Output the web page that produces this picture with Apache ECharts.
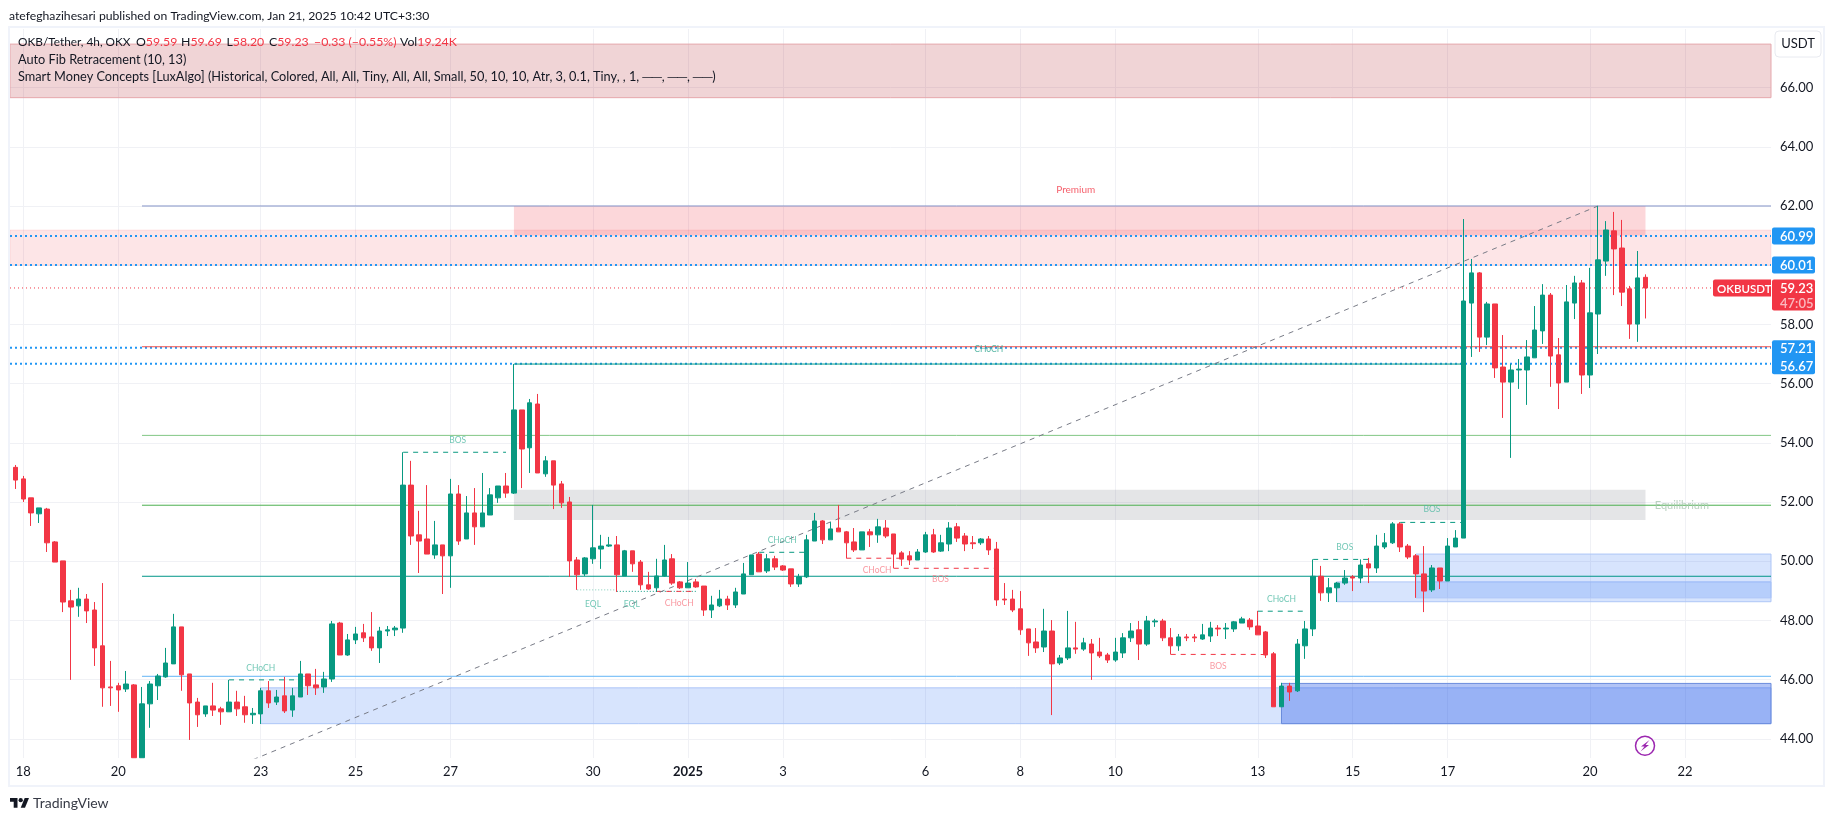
<!DOCTYPE html>
<html>
<head>
<meta charset="utf-8">
<title>OKB/Tether 4h</title>
<script src="https://cdn.jsdelivr.net/npm/echarts@6/dist/echarts.min.js"></script>
<style>
  html, body { margin: 0; padding: 0; background: #fff; overflow: hidden; }
  #main { width: 1835px; height: 821px; }
</style>
</head>
<body>
<div id="main"></div>
<script>
// bar numbers count 4h bars from Dec 18 (6 bars a day)
var firstBar = -1;
// bars 14 and 15 run off the bottom of the pane, so their hidden ends stop at the edge
var opens = [
  53.17,52.78,52.14,51.60,51.76,50.65,50.01,48.66,48.49,48.72,
  48.35,47.14,45.75,45.79,45.68,45.82,43.36,45.18,45.79,46.09,
  46.53,47.78,46.19,45.24,44.84,45.11,45.01,44.91,45.24,45.08,
  44.81,44.84,45.62,45.24,45.45,44.97,45.41,46.19,45.82,45.75,
  46.02,47.91,46.83,47.34,47.58,47.44,47.07,47.64,47.68,47.74,
  52.57,50.89,50.75,50.21,50.55,50.18,52.27,50.75,51.63,51.16,
  51.56,52.14,52.54,52.30,55.11,53.83,55.31,52.95,53.39,52.61,
  52.00,50.04,49.57,50.08,50.41,50.51,50.55,49.50,50.35,49.97,
  49.20,49.10,49.50,50.08,49.30,49.10,49.30,49.16,48.35,48.49,
  48.72,48.52,48.89,49.54,50.24,49.67,50.08,49.84,49.74,49.23,
  49.47,50.68,51.36,50.72,51.12,50.99,50.65,50.38,50.99,50.89,
  51.12,50.92,50.28,50.18,50.04,50.31,50.89,50.34,50.58,51.16,
  50.85,50.62,50.62,50.75,50.41,48.72,48.72,48.39,47.71,47.27,
  47.10,47.64,46.56,46.73,47.07,47.03,47.20,46.93,46.83,46.66,
  46.90,47.41,47.68,47.20,47.95,47.98,47.41,47.14,47.44,47.44,
  47.37,47.47,47.74,47.71,47.71,47.91,48.01,47.81,47.61,46.87,
  45.08,45.78,45.62,47.14,47.71,49.49,48.93,49.10,49.26,49.47,
  49.43,49.91,49.77,50.48,50.62,51.26,50.51,50.18,49.57,49.03,
  49.77,49.33,50.48,50.78,58.72,59.74,57.57,58.69,56.56,56.05,
  56.46,56.46,56.87,57.78,58.99,56.97,56.05,58.72,59.40,56.29,
  58.35,60.14,61.16,60.58,59.20,58.01,59.59
];
var closes = [
  52.74,52.10,51.63,51.80,50.62,49.97,48.62,48.45,48.72,48.32,
  47.07,45.72,45.72,45.65,45.85,43.36,45.18,45.85,46.12,46.56,
  47.78,46.16,45.21,44.81,45.11,44.97,44.91,45.24,45.01,44.81,
  44.86,45.62,45.21,45.41,44.94,45.45,46.19,45.79,45.72,46.02,
  47.88,46.83,47.34,47.54,47.41,47.07,47.64,47.68,47.74,52.57,
  50.85,50.68,50.24,50.55,50.18,52.27,50.68,51.63,51.16,51.63,
  52.24,52.54,52.30,55.11,53.79,55.35,52.98,53.39,52.57,51.97,
  50.01,49.54,50.11,50.45,50.51,50.55,49.54,50.35,49.91,49.20,
  49.06,49.50,50.04,49.26,49.10,49.26,49.13,48.35,48.52,48.72,
  48.52,48.96,49.57,50.21,49.64,50.08,49.80,49.70,49.23,49.47,
  50.72,51.36,50.72,51.09,50.99,50.62,50.38,50.99,50.89,51.16,
  50.85,50.24,50.07,50.04,50.31,50.89,50.31,50.62,51.12,50.78,
  50.58,50.59,50.75,50.38,48.69,48.69,48.35,47.68,47.24,47.07,
  47.64,46.53,46.73,47.07,47.03,47.24,46.90,46.80,46.66,46.93,
  47.41,47.64,47.20,47.98,47.98,47.41,47.14,47.44,47.41,47.41,
  47.51,47.74,47.71,47.74,47.95,48.05,47.78,47.51,46.83,45.08,
  45.78,45.58,47.20,47.71,49.49,48.93,49.10,49.26,49.43,49.43,
  49.87,49.77,50.51,50.62,51.26,50.48,50.14,49.57,48.99,49.77,
  49.33,50.51,50.78,58.79,59.74,57.57,58.69,56.53,56.05,56.46,
  56.49,56.90,57.81,58.99,56.93,56.02,58.76,59.40,56.29,58.39,
  60.18,61.19,60.55,59.09,58.01,59.57,59.23
];
var lows = [
  52.44,52.00,51.19,51.29,50.31,49.97,48.28,45.99,48.12,47.91,
  46.46,45.08,45.11,44.91,45.58,43.36,43.36,44.37,45.31,46.06,
  46.53,45.62,43.96,44.40,44.74,44.77,44.47,44.91,44.77,44.54,
  44.50,44.50,45.04,45.14,44.87,44.74,45.41,45.48,45.48,45.55,
  45.92,46.83,46.80,47.20,47.27,46.97,46.56,47.47,47.47,47.58,
  50.55,49.60,50.24,50.08,48.89,49.10,50.55,50.75,50.55,51.16,
  51.56,51.97,52.14,52.27,52.47,52.98,52.98,52.85,51.76,51.80,
  49.47,49.03,49.50,49.91,49.74,50.48,48.96,49.50,49.64,49.03,
  49.03,48.96,49.48,49.20,49.06,49.10,49.10,48.15,48.08,48.45,
  48.35,48.42,48.89,49.54,49.64,49.60,49.70,49.67,49.13,49.13,
  49.43,50.68,50.58,50.72,50.99,50.10,50.31,50.38,50.48,50.62,
  50.78,49.76,49.84,49.87,50.04,50.28,50.28,50.31,50.34,50.65,
  50.34,50.41,50.55,50.21,48.49,48.52,48.28,47.51,46.80,46.90,
  46.93,44.80,46.49,46.66,46.87,46.97,45.99,46.73,46.56,46.60,
  46.73,47.27,46.66,47.14,47.78,47.30,46.85,46.97,47.30,47.27,
  47.34,47.27,47.47,47.37,47.61,47.91,47.68,47.51,46.73,45.08,
  45.08,45.28,45.58,46.70,47.47,48.66,48.62,48.62,49.20,48.99,
  49.26,49.26,49.60,50.41,50.58,50.31,50.07,48.76,48.28,48.96,
  49.06,49.33,50.48,50.78,56.90,57.07,57.30,56.19,54.84,53.49,
  55.82,55.28,56.87,57.34,55.89,55.14,56.05,58.18,55.65,55.85,
  57.00,59.64,58.99,58.62,57.51,57.41,58.20
];
var highs = [
  53.25,52.88,52.14,51.80,51.80,50.68,50.01,49.03,49.10,48.89,
  48.62,49.26,46.63,45.89,46.29,45.85,45.75,45.95,46.19,47.07,
  48.22,47.78,46.19,45.38,45.11,45.89,45.08,45.99,45.62,45.45,
  45.04,45.72,45.95,45.65,46.09,45.72,46.63,46.19,46.36,46.26,
  47.98,47.95,47.54,47.78,47.88,48.28,47.78,47.81,47.81,53.68,
  53.39,51.70,52.57,51.36,50.55,52.78,52.57,52.20,52.47,52.98,
  52.47,52.54,52.98,56.66,55.11,55.48,55.65,53.55,53.39,52.71,
  52.17,50.14,50.14,51.90,50.89,50.82,50.85,50.38,50.35,50.04,
  49.64,50.08,50.55,50.24,49.33,49.97,49.40,49.16,48.83,49.03,
  48.83,49.10,49.94,50.21,50.31,50.24,50.18,49.87,49.74,49.57,
  50.89,51.63,51.39,51.32,51.90,51.02,51.12,50.99,51.09,51.43,
  51.39,50.92,50.34,50.34,50.41,50.99,51.09,50.89,51.32,51.29,
  50.95,50.85,50.78,50.85,50.65,49.26,49.03,48.99,47.71,47.74,
  48.39,48.01,46.83,48.32,47.95,47.41,47.37,47.41,46.90,47.41,
  47.57,47.91,47.98,48.15,48.05,48.05,47.74,47.54,47.54,47.54,
  47.88,47.95,47.84,47.91,47.98,48.12,48.08,48.32,47.64,46.93,
  45.89,45.89,47.37,47.98,50.06,49.84,49.43,49.30,49.70,49.53,
  50.06,50.11,50.89,50.95,51.32,51.32,50.58,50.24,50.51,49.87,
  49.77,50.78,51.05,61.56,60.21,59.77,58.76,58.69,57.64,56.66,
  56.83,57.47,58.62,59.36,59.06,57.54,59.33,59.64,59.50,59.91,
  62.00,61.49,61.80,61.53,59.30,60.48,59.69
];

var tickBars = [0, 12, 30, 42, 54, 72, 84, 96, 114, 126, 138, 156, 168, 180, 198, 210];
var tickLabels = ['18', '20', '23', '25', '27', '30', '2025', '3', '6', '8', '10', '13', '15', '17', '20', '22'];
var priceTicks = [44, 46, 48, 50, 52, 54, 56, 58, 60, 62, 64, 66];

var barMin = -1.68, barMax = 220.86;
var priceMin = 43.35, priceMax = 67.98;

var UP = '#089981', DOWN = '#f23645', BLUE = '#2196f3';
var TEXT = '#131722', FONT = 'Lato, "Noto Sans", sans-serif';

// zones: first bar, last bar, top price, bottom price, fill, border
var zones = [
  [barMin, barMax, 67.47, 65.66, 'rgba(178,40,51,0.2)', '#e5a8ad'],
  [barMin, barMax, 61.19, 60.00, 'rgba(242,54,69,0.13)', 'rgba(242,54,69,0.1)'],
  [62, 205, 62.00, 61.00, 'rgba(242,54,69,0.2)', null],
  [62, 205, 52.41, 51.39, 'rgba(120,123,134,0.2)', null],
  [30, barMax, 45.72, 44.51, 'rgba(41,110,245,0.19)', '#adc6f7'],
  [159, barMax, 45.87, 44.51, 'rgba(33,87,230,0.35)', '#6a8bdc'],
  [166, barMax, 49.30, 48.63, 'rgba(41,110,245,0.19)', '#adc6f7'],
  [176, barMax, 50.24, 48.76, 'rgba(41,110,245,0.19)', '#adc6f7']
];

// auto fib levels run from bar 15 to the right edge
var fibLevels = [
  [62.00, '#8494c8'],
  [57.245, '#ef5350'],
  [54.25, '#81c784'],
  [51.89, '#4caf50'],
  [49.49, '#009688'],
  [46.11, '#64b5f6']
];
var dottedPrices = [60.99, 60.01, 57.21, 56.67];

// structure lines: first bar, last bar, price, colour, style
var structureLines = [
  [26, 35, 45.99, UP, 'dashed'],
  [48, 61, 53.68, UP, 'dashed'],
  [62, 182, 56.66, UP, 'solid'],
  [70, 75, 49.03, '#7fccb9', 'dotted'],
  [75, 85, 48.98, UP, 'dotted'],
  [80, 85, 48.98, DOWN, 'dashed'],
  [93, 99, 50.30, UP, 'dashed'],
  [104, 111, 50.10, DOWN, 'dashed'],
  [110, 123, 49.76, DOWN, 'dashed'],
  [145, 157, 46.85, DOWN, 'dashed'],
  [156, 162, 48.31, UP, 'dashed'],
  [163, 170, 50.06, UP, 'dashed'],
  [174, 182, 51.31, UP, 'dashed']
];

// small labels: text, bar, price, colour, size
var smcLabels = [
  ['CHoCH', 30, 46.39, '#4db9a3', 8.5],
  ['BOS', 54.9, 54.09, '#4db9a3', 8.5],
  ['CHoCH', 122, 57.17, '#2ea58f', 8.5],
  ['EQL', 72, 48.56, '#4db9a3', 8.5],
  ['EQL', 76.9, 48.56, '#4db9a3', 8.5],
  ['CHoCH', 82.9, 48.59, '#f87f8a', 8.5],
  ['CHoCH', 95.9, 50.72, '#4db9a3', 8.5],
  ['CHoCH', 107.9, 49.68, '#f87f8a', 8.5],
  ['BOS', 115.9, 49.40, '#f87f8a', 8.5],
  ['BOS', 151, 46.46, '#f87f8a', 8.5],
  ['CHoCH', 159, 48.72, '#4db9a3', 8.5],
  ['BOS', 167, 50.48, '#4db9a3', 8.5],
  ['BOS', 178, 51.76, '#4db9a3', 8.5],
  ['Premium', 133, 62.54, '#f23645', 10],
  ['Equilibrium', 209.6, 51.87, '#a9c7b0', 11]
];

var candleData = opens.map(function (o, i) {
  return [firstBar + i, o, closes[i], lows[i], highs[i]];
});

function lineSeries(points, color, type, width) {
  return {
    type: 'line', data: points, z: 2, silent: true, symbol: 'none', animation: false,
    lineStyle: { color: color, type: type, width: width || 1 }
  };
}

var series = [{
  type: 'line', data: [], z: 1, silent: true, symbol: 'none',
  markArea: {
    silent: true,
    data: zones.map(function (z) {
      return [{
        coord: [z[0], z[2]],
        itemStyle: { color: z[4], borderColor: z[5] || 'transparent', borderWidth: z[5] ? 1 : 0 }
      }, { coord: [z[1], z[3]] }];
    })
  }
}];

dottedPrices.forEach(function (p) {
  series.push(lineSeries([[barMin, p], [barMax, p]], BLUE, [2, 3], 2));
});
fibLevels.forEach(function (f) {
  series.push(lineSeries([[15, f[0]], [barMax, f[0]]], f[1], 'solid', 1));
});
structureLines.forEach(function (s) {
  var dash = s[4] === 'dashed' ? [5, 5] : (s[4] === 'dotted' ? [1, 2] : 'solid');
  series.push(lineSeries([[s[0], s[2]], [s[1], s[2]]], s[3], dash, 1));
});
// fib trend line and the last price line
series.push(lineSeries([[15, 41.75], [199, 62.0]], '#787b86', [5, 5], 1));
series.push(lineSeries([[barMin, 59.23], [barMax, 59.23]], DOWN, [1, 3], 1));

series.push({
  type: 'candlestick', z: 5, silent: true, barWidth: 5, data: candleData,
  itemStyle: { color: UP, color0: DOWN, borderColor: UP, borderColor0: DOWN, borderWidth: 1 }
});
series.push({
  type: 'scatter', z: 6, silent: true, symbolSize: 0,
  data: smcLabels.map(function (l) {
    return {
      value: [l[1], l[2]],
      label: { show: true, position: 'inside', formatter: l[0], color: l[3], fontSize: l[4], fontFamily: FONT }
    };
  })
});

var chart = echarts.init(document.getElementById('main'), null, { renderer: 'canvas' });
chart.setOption({
  animation: false,
  backgroundColor: '#ffffff',
  grid: { left: 10, top: 29, width: 1761, height: 729 },
  xAxis: {
    type: 'value', min: barMin, max: barMax, position: 'bottom',
    axisLine: { show: false },
    axisTick: { show: false, customValues: tickBars },
    splitLine: { show: true, lineStyle: { color: '#f0f1f5', width: 1 } },
    axisLabel: {
      customValues: tickBars, color: TEXT, fontSize: 13, fontFamily: FONT, margin: 7,
      formatter: function (v) {
        var t = tickLabels[tickBars.indexOf(v)];
        return t === '2025' ? '{b|2025}' : t;
      },
      rich: { b: { fontWeight: 'bold', fontSize: 13, fontFamily: FONT, color: TEXT } }
    }
  },
  yAxis: {
    type: 'value', min: priceMin, max: priceMax, position: 'right',
    axisLine: { show: false },
    axisTick: { show: false, customValues: priceTicks },
    splitLine: { show: true, lineStyle: { color: '#f0f1f5', width: 1 } },
    axisLabel: {
      customValues: priceTicks, color: TEXT, fontSize: 13, fontFamily: FONT, margin: 9,
      padding: [2, 0, 0, 0],
      formatter: function (v) { return v.toFixed(2); }
    }
  },
  series: series
});

// chrome around the plot, tags are anchored on the price scale
function py(p) { return chart.convertToPixel({ yAxisIndex: 0 }, p); }

function tagText(x, y, text, color, size) {
  return {
    type: 'text', z: 30, x: x, y: y + 1,
    style: { text: text, fill: color, font: '600 ' + (size || 13) + 'px ' + FONT, verticalAlign: 'middle' }
  };
}

function legendText(x, y, text, size) {
  return {
    type: 'text', z: 30, x: x, y: y,
    style: { text: text, fill: TEXT, font: (size || 12.75) + 'px ' + FONT, verticalAlign: 'middle' }
  };
}

// one OHLC value of the legend row: letter in black, value in red
function ohlcText(x, letter, value) {
  return {
    type: 'text', z: 30, x: x, y: 42,
    style: {
      text: (letter ? '{k|' + letter + '}' : '') + '{r|' + value + '}',
      verticalAlign: 'middle',
      rich: {
        k: { fontSize: 12.3, fontFamily: FONT, fill: TEXT, color: TEXT },
        r: { fontSize: 12.3, fontFamily: FONT, fill: DOWN, color: DOWN }
      }
    }
  };
}

var graphics = [
  { type: 'rect', z: 20, silent: true, shape: { x: 9, y: 27, width: 1815, height: 759 }, style: { fill: 'none', stroke: '#f0f3fa', lineWidth: 2 } },
  { type: 'text', z: 30, x: 9, y: 16, style: { text: 'atefeghazihesari published on TradingView.com, Jan 21, 2025 10:42 UTC+3:30', fill: TEXT, font: '12.2px ' + FONT, verticalAlign: 'middle' } },
  legendText(18, 42, 'OKB/Tether, 4h, OKX', 11.8),
  ohlcText(136, 'O', '59.59'),
  ohlcText(181, 'H', '59.69'),
  ohlcText(226.5, 'L', '58.20'),
  ohlcText(269, 'C', '59.23'),
  ohlcText(314, '', '\u22120.33 (\u22120.55%)'),
  ohlcText(400, 'Vol', '19.24K'),
  legendText(18, 60, 'Auto Fib Retracement (10, 13)'),
  legendText(18, 77, 'Smart Money Concepts [LuxAlgo] (Historical, Colored, All, All, Tiny, All, All, Small, 50, 10, 10, Atr, 3, 0.1, Tiny, , 1, \u2500\u2500, \u2500\u2500, \u2500\u2500)'),

  // USDT button
  { type: 'rect', z: 30, shape: { x: 1775, y: 31, width: 46, height: 26, r: 4 }, style: { fill: '#fff', stroke: '#e8eaf0', lineWidth: 1 } },
  { type: 'text', z: 31, x: 1798, y: 44, style: { text: 'USDT', fill: TEXT, font: '13px ' + FONT, align: 'center', verticalAlign: 'middle' } },

  // price tags
  { type: 'rect', z: 30, shape: { x: 1772, y: py(60.99) - 8.5, width: 43, height: 17, r: 2 }, style: { fill: BLUE } },
  tagText(1780, py(60.99), '60.99', '#fff'),
  { type: 'rect', z: 30, shape: { x: 1772, y: py(60.01) - 8.5, width: 43, height: 17, r: 2 }, style: { fill: BLUE } },
  tagText(1780, py(60.01), '60.01', '#fff'),
  { type: 'rect', z: 30, shape: { x: 1772, y: py(57.21) - 7.5, width: 43, height: 34, r: 2 }, style: { fill: BLUE } },
  tagText(1780, py(57.21), '57.21', '#fff'),
  tagText(1780, py(56.67) + 2, '56.67', '#fff'),
  { type: 'rect', z: 30, shape: { x: 1713, y: py(59.23) - 8.5, width: 58, height: 17, r: [2, 0, 0, 2] }, style: { fill: DOWN } },
  tagText(1717, py(59.23), 'OKBUSDT', '#fff', 11.5),
  { type: 'rect', z: 30, shape: { x: 1772, y: py(59.23) - 8.5, width: 43, height: 31, r: 2 }, style: { fill: DOWN } },
  tagText(1780, py(59.23), '59.23', '#fff'),
  tagText(1780, py(59.23) + 14.5, '47:05', 'rgba(255,255,255,0.65)'),

  // bolt marker under the last bar
  { type: 'circle', z: 30, shape: { cx: 1645, cy: 745.7, r: 9.5 }, style: { fill: '#fff', stroke: '#9c27b0', lineWidth: 1.5 } },
  { type: 'polygon', z: 31, shape: { points: [[1649.5, 740], [1641, 746.5], [1644.5, 746.5], [1640.5, 751.5], [1649, 745], [1645.5, 745]] }, style: { fill: '#9c27b0' } },

  // TradingView logo
  { type: 'polygon', z: 30, shape: { points: [[17.5, 807.7], [13.7, 807.7], [13.7, 801.8], [10, 801.8], [10, 798], [17.5, 798]] }, style: { fill: '#131722' } },
  { type: 'polygon', z: 30, shape: { points: [[25, 807.7], [20.7, 807.7], [24.7, 798], [29, 798]] }, style: { fill: '#131722' } },
  { type: 'circle', z: 30, shape: { cx: 20.7, cy: 800.2, r: 2.15 }, style: { fill: '#131722' } },
  { type: 'text', z: 30, x: 33, y: 803, style: { text: 'TradingView', fill: '#363a45', font: '14px ' + FONT, verticalAlign: 'middle' } }
];

chart.setOption({ graphic: graphics });
</script>
</body>
</html>
